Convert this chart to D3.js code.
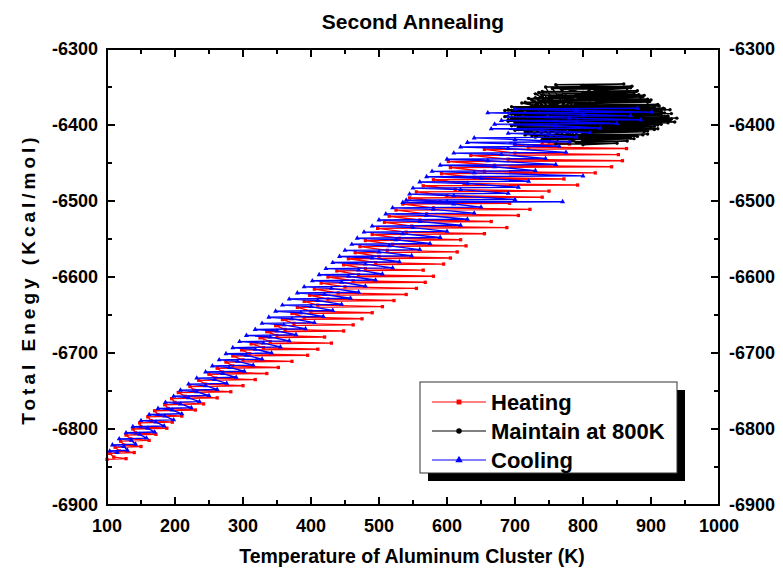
<!DOCTYPE html>
<html><head><meta charset="utf-8">
<script src="https://cdn.jsdelivr.net/npm/d3@7"></script>
<style>body{margin:0;background:#fff}svg{display:block}text{font-family:"Liberation Sans",Arial,sans-serif;font-weight:bold}</style>
</head><body>
<svg id="c" width="783" height="575"></svg>
<script>
const xTicks = [100,200,300,400,500,600,700,800,900,1000];
const yTicks = [-6900,-6800,-6700,-6600,-6500,-6400,-6300];
const seriesNames = ["Heating","Maintain at 800K","Cooling"];
const seriesColors = ["#ff0000","#000000","#0000ff"];

const heatT = [100,128,110, 104,140,118, 112,150,125, 120,162,135, 128,172,142, 138,188,150, 148,196,165, 160,210,175, 170,230,190, 185,242,200, 195,262,215, 205,282,228, 222,300,245, 235,318,260, 250,335,270, 262,352,285, 275,372,300, 285,395,310, 298,410,330, 312,430,340, 325,420,350, 335,448,362, 348,462,375, 358,475,390, 372,490,400, 380,505,410, 390,522,425, 398,540,440, 405,555,450, 415,568,462, 425,580,470, 438,565,480, 448,595,495, 455,605,500, 465,615,512, 472,628,520, 480,620,530, 490,655,540, 498,688,548, 508,665,560, 515,705,570, 525,722,580, 535,692,590, 545,740,600, 555,750,612, 565,792,625, 580,772,640, 592,818,655, 605,842,670, 602,858,690, 635,852,700, 655,864,720, 700,780,740];
const heatE = [-6840,-6839,-6837, -6832,-6831,-6829, -6824,-6823,-6821, -6816,-6815,-6813, -6808,-6807,-6805, -6800,-6799,-6797, -6792,-6791,-6789, -6784,-6783,-6781, -6776,-6775,-6773, -6768,-6767,-6765, -6760,-6759,-6757, -6752,-6751,-6749, -6744,-6743,-6741, -6736,-6735,-6733, -6728,-6727,-6725, -6720,-6719,-6717, -6712,-6711,-6709, -6704,-6703,-6701, -6696,-6695,-6693, -6688,-6687,-6685, -6680,-6679,-6677, -6672,-6671,-6669, -6664,-6663,-6661, -6656,-6655,-6653, -6648,-6647,-6645, -6640,-6639,-6637, -6632,-6631,-6629, -6624,-6623,-6621, -6616,-6615,-6613, -6608,-6607,-6605, -6600,-6599,-6597, -6592,-6591,-6589, -6584,-6583,-6581, -6576,-6575,-6573, -6568,-6567,-6565, -6560,-6559,-6557, -6552,-6551,-6549, -6544,-6543,-6541, -6536,-6535,-6533, -6528,-6527,-6525, -6520,-6519,-6517, -6512,-6511,-6509, -6504,-6503,-6501, -6496,-6495,-6493, -6488,-6487,-6485, -6480,-6479,-6477, -6472,-6471,-6469, -6464,-6463,-6461, -6456,-6455,-6453, -6448,-6447,-6445, -6440,-6439,-6437, -6432,-6431,-6429, -6426,-6425,-6423];

const holdT = [695,930,800, 690,920,780, 700,905,810, 710,900,790, 720,885,800, 715,895,770, 770,865,820, 700,938,830, 710,895,790, 740,875,800, 705,915,780, 730,875,790, 695,910,820, 760,860,800, 685,925,760, 720,890,800, 725,910,820, 705,925,790, 750,890,810, 750,865,790, 690,920,800, 700,905,780, 745,872,800, 735,900,820, 730,880,790, 740,880,800, 760,850,800,
 700,915,790, 685,928,810, 700,935,800, 725,895,780, 705,910,800, 755,870,810, 725,888,790, 695,912,800, 690,930,770, 740,882,800, 745,870,800, 700,920,780, 700,915,800, 715,898,810, 715,895,790, 735,878,800, 695,925,800, 705,918,790, 705,905,800, 730,888,800, 710,928,800];
const holdE = [-6386,-6385,-6387, -6395,-6394,-6396, -6377,-6376,-6378, -6404,-6403,-6405, -6365,-6364,-6366, -6413,-6412,-6414, -6353,-6352,-6354, -6392,-6391,-6393, -6371,-6370,-6372, -6419,-6418,-6420, -6383,-6382,-6384, -6359,-6358,-6360, -6401,-6400,-6402, -6347,-6346,-6348, -6389,-6388,-6390, -6410,-6409,-6411, -6374,-6373,-6375, -6398,-6397,-6399, -6362,-6361,-6363, -6422,-6421,-6423, -6380,-6379,-6381, -6407,-6406,-6408, -6350,-6349,-6351, -6368,-6367,-6369, -6416,-6415,-6417, -6356,-6355,-6357, -6425,-6424,-6426,
 -6388,-6387,-6389, -6381,-6380,-6382, -6397,-6396,-6398, -6367,-6366,-6368, -6406,-6405,-6407, -6352,-6351,-6353, -6414,-6413,-6415, -6376,-6375,-6377, -6393,-6392,-6394, -6361,-6360,-6362, -6418,-6417,-6419, -6385,-6384,-6386, -6400,-6399,-6401, -6370,-6369,-6371, -6409,-6408,-6410, -6357,-6356,-6358, -6391,-6390,-6392, -6379,-6378,-6380, -6403,-6402,-6404, -6364,-6363,-6365, -6395,-6394,-6396];

const coolT = [880,700,790, 901,660,800, 870,690,780, 885,680,790, 850,670,760, 825,665,740, 810,690,750, 790,640,700, 780,630,700, 765,620,690, 775,610,680, 745,600,660, 760,590,670, 730,578,640, 800,570,650, 720,560,630, 705,550,620, 690,545,610, 700,540,600, 770,535,610, 650,520,580, 640,510,570, 630,500,560, 620,490,550, 600,478,535, 590,468,525, 575,460,515, 560,450,500, 548,442,490, 530,432,480, 520,422,470, 505,412,455, 495,402,445, 480,390,430, 470,380,420, 458,368,410, 445,358,400, 432,348,385, 418,338,372, 405,328,360, 392,318,350, 378,305,340, 368,295,330, 355,285,318, 342,275,305, 328,265,292, 315,255,280, 302,245,270, 290,232,258, 276,220,245, 262,208,232, 250,198,220, 236,186,208, 224,175,196, 210,162,185, 198,150,172, 184,138,160, 170,128,148, 158,118,136, 142,108,125, 130,104,115];
const coolE = [-6378,-6379,-6381, -6383,-6384,-6386, -6388,-6389,-6391, -6393,-6394,-6396, -6398,-6399,-6401, -6404,-6405,-6407, -6410,-6411,-6413, -6416,-6417,-6419, -6422,-6423,-6425, -6428,-6429,-6431, -6436,-6437,-6439, -6444,-6445,-6447, -6452,-6453,-6455, -6460,-6461,-6463, -6467,-6468,-6470, -6474,-6475,-6477, -6482,-6483,-6485, -6490,-6491,-6493, -6498,-6499,-6501, -6501,-6502,-6504, -6508,-6509,-6511, -6516,-6517,-6519, -6524,-6525,-6527, -6532,-6533,-6535, -6540,-6541,-6543, -6548,-6549,-6551, -6556,-6557,-6559, -6564,-6565,-6567, -6572,-6573,-6575, -6580,-6581,-6583, -6588,-6589,-6591, -6596,-6597,-6599, -6604,-6605,-6607, -6612,-6613,-6615, -6620,-6621,-6623, -6628,-6629,-6631, -6636,-6637,-6639, -6644,-6645,-6647, -6652,-6653,-6655, -6660,-6661,-6663, -6668,-6669,-6671, -6676,-6677,-6679, -6684,-6685,-6687, -6692,-6693,-6695, -6700,-6701,-6703, -6708,-6709,-6711, -6716,-6717,-6719, -6724,-6725,-6727, -6732,-6733,-6735, -6740,-6741,-6743, -6748,-6749,-6751, -6756,-6757,-6759, -6764,-6765,-6767, -6772,-6773,-6775, -6780,-6781,-6783, -6788,-6789,-6791, -6796,-6797,-6799, -6804,-6805,-6807, -6812,-6813,-6815, -6820,-6821,-6823, -6828,-6829,-6831];

const svg = d3.select("#c");
const L=107,R=719,T=49,B=505;
const x = d3.scaleLinear().domain([100,1000]).range([L,R]);
const y = d3.scaleLinear().domain([-6900,-6300]).range([B,T]);
const minorX = d3.range(150,1000,100), minorY = d3.range(-6850,-6300,100);

const series = [
  {T:heatT,E:heatE,sym:d3.symbolSquare,size:11},
  {T:holdT,E:holdE,sym:d3.symbolCircle,size:9},
  {T:coolT,E:coolE,sym:d3.symbolTriangle,size:11}
];
const line = d3.line().x(d=>x(d[0])).y(d=>y(d[1]));
series.forEach((s,i)=>{
  const n = Math.min(s.T.length,s.E.length);
  const pts = s.T.slice(0,n).map((t,k)=>[t,s.E[k]]);
  const g = svg.append("g");
  g.append("path").attr("d",line(pts)).attr("fill","none").attr("stroke",seriesColors[i]).attr("stroke-width",1.4);
  g.selectAll("path.m").data(pts).join("path").attr("class","m")
    .attr("transform",d=>`translate(${x(d[0])},${y(d[1])})`)
    .attr("d",d3.symbol().type(s.sym).size(s.size)).attr("fill",seriesColors[i]);
});

const fs=18;
const ax = svg.append("g").attr("stroke","#000").attr("stroke-width",2);
ax.append("rect").attr("x",L).attr("y",T).attr("width",R-L).attr("height",B-T).attr("fill","none");
xTicks.forEach(v=>{
  ax.append("line").attr("x1",x(v)).attr("x2",x(v)).attr("y1",B).attr("y2",B-8);
  ax.append("line").attr("x1",x(v)).attr("x2",x(v)).attr("y1",T).attr("y2",T+8);
});
minorX.forEach(v=>{
  ax.append("line").attr("x1",x(v)).attr("x2",x(v)).attr("y1",B).attr("y2",B-5);
  ax.append("line").attr("x1",x(v)).attr("x2",x(v)).attr("y1",T).attr("y2",T+5);
});
yTicks.forEach(v=>{
  ax.append("line").attr("x1",L).attr("x2",L+8).attr("y1",y(v)).attr("y2",y(v));
  ax.append("line").attr("x1",R).attr("x2",R-8).attr("y1",y(v)).attr("y2",y(v));
});
minorY.forEach(v=>{
  ax.append("line").attr("x1",L).attr("x2",L+5).attr("y1",y(v)).attr("y2",y(v));
  ax.append("line").attr("x1",R).attr("x2",R-5).attr("y1",y(v)).attr("y2",y(v));
});
svg.selectAll("text.xt").data(xTicks).join("text").attr("class","xt")
  .attr("x",d=>x(d)).attr("y",B+27).attr("text-anchor","middle").attr("font-size",fs).text(d=>d);
svg.selectAll("text.yl").data(yTicks).join("text").attr("class","yl")
  .attr("x",L-9).attr("y",d=>y(d)+6).attr("text-anchor","end").attr("font-size",fs).text(d=>d);
svg.selectAll("text.yr").data(yTicks).join("text").attr("class","yr")
  .attr("x",R+10).attr("y",d=>y(d)+6).attr("text-anchor","start").attr("font-size",fs).text(d=>d);

svg.append("text").attr("x",413).attr("y",29).attr("text-anchor","middle").attr("font-size",21).text("Second Annealing");
svg.append("text").attr("x",412).attr("y",563).attr("text-anchor","middle").attr("font-size",19.5).text("Temperature of Aluminum Cluster (K)");
svg.append("text").attr("transform","translate(35,279) rotate(-90)").attr("text-anchor","middle").attr("font-size",19).attr("letter-spacing",4).text("Total Enegy (Kcal/mol)");

const lg = svg.append("g");
lg.append("rect").attr("x",428).attr("y",390).attr("width",257).attr("height",91).attr("fill","#000");
lg.append("rect").attr("x",420).attr("y",382).attr("width",257).attr("height",91).attr("fill","#fff").attr("stroke","#333").attr("stroke-width",1);
const syms=[d3.symbolSquare,d3.symbolCircle,d3.symbolTriangle];
seriesNames.forEach((n,i)=>{
  const yy=402+i*29;
  lg.append("line").attr("x1",432).attr("x2",486).attr("y1",yy).attr("y2",yy).attr("stroke",seriesColors[i]).attr("stroke-width",1);
  lg.append("path").attr("transform",`translate(459,${yy})`).attr("d",d3.symbol().type(syms[i]).size(24)).attr("fill",seriesColors[i]);
  lg.append("text").attr("x",491).attr("y",yy+8).attr("font-size",22).text(n);
});
</script>
</body></html>
